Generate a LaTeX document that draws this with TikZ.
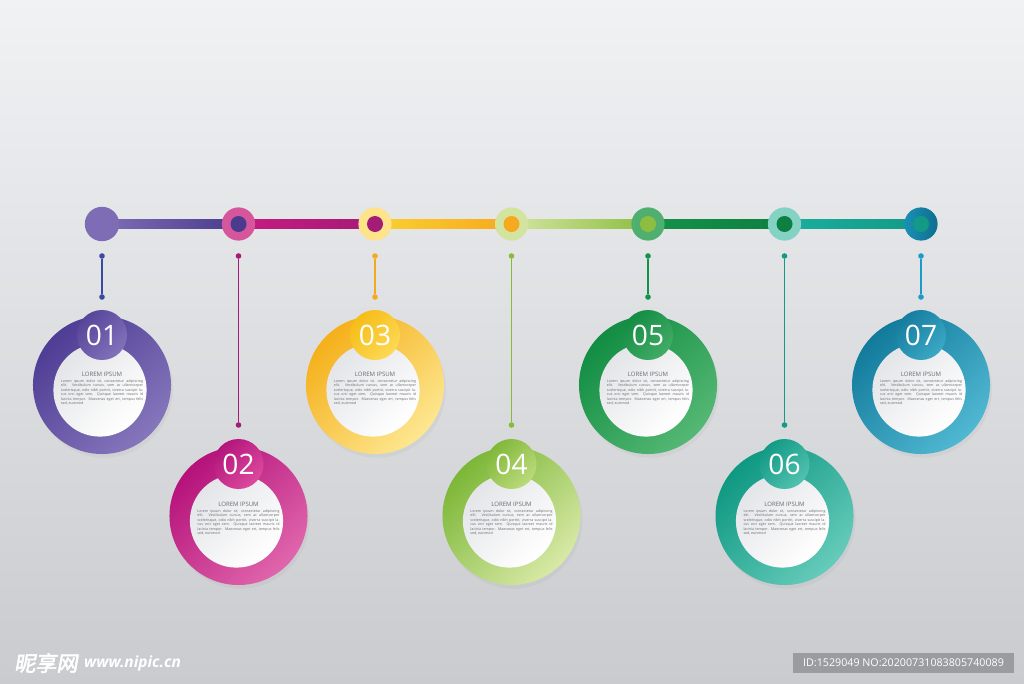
\documentclass[tikz,border=0pt]{standalone}
\usepackage{fontspec}
\setsansfont{Open Sans}
\newfontfamily\cjk[FakeSlant=0.18,FakeBold=2.5]{Noto Sans CJK SC}
\usepackage{tikz}
\usetikzlibrary{calc,positioning,shadows}
\definecolor{tlBgTop}{HTML}{F1F2F4}
\definecolor{tlBgBot}{HTML}{C9CBCE}
\definecolor{tlText}{HTML}{6B6C70}
\definecolor{tlFace}{HTML}{E4E5E8}
\definecolor{tlIdGray}{HTML}{9A9C9F}
% timeline colours
\definecolor{tlPurpleLt}{HTML}{7E6DB5}
\definecolor{tlPurpleDk}{HTML}{4B3B8E}
\definecolor{tlPink}{HTML}{D6569C}
\definecolor{tlMagenta}{HTML}{C81A82}
\definecolor{tlMagentaDk}{HTML}{A31C76}
\definecolor{tlYellowLt}{HTML}{FDE38A}
\definecolor{tlYellow}{HTML}{FBD030}
\definecolor{tlOrange}{HTML}{F6A91E}
\definecolor{tlLimeLt}{HTML}{D3E4A0}
\definecolor{tlLime}{HTML}{8DBE42}
\definecolor{tlGreenMid}{HTML}{4FAF6E}
\definecolor{tlGreen}{HTML}{13934A}
\definecolor{tlGreenDk}{HTML}{0D7F40}
\definecolor{tlTealLt}{HTML}{84D2C4}
\definecolor{tlTeal}{HTML}{1AAE9E}
\definecolor{tlTealDk}{HTML}{139A86}
\definecolor{tlBlue}{HTML}{1A8FB4}
\definecolor{tlBlueDk}{HTML}{0F6F8F}
\definecolor{tlStemBlue}{HTML}{3A4AA2}
\definecolor{tlStemLime}{HTML}{86BC38}
\definecolor{tlStemCyan}{HTML}{1C9BC6}
% ring and badge colours
\definecolor{rOneA}{HTML}{4E3D94}\definecolor{rOneB}{HTML}{8676BC}
\definecolor{bOneA}{HTML}{574599}\definecolor{bOneB}{HTML}{8272BA}
\definecolor{rTwoA}{HTML}{B5127A}\definecolor{rTwoB}{HTML}{E066AC}
\definecolor{bTwoA}{HTML}{B3157B}\definecolor{bTwoB}{HTML}{DC4A9E}
\definecolor{rThreeA}{HTML}{F5B01A}\definecolor{rThreeB}{HTML}{FDE791}
\definecolor{bThreeA}{HTML}{F6BD17}\definecolor{bThreeB}{HTML}{FCD956}
\definecolor{rFourA}{HTML}{7CB737}\definecolor{rFourB}{HTML}{D8E9A6}
\definecolor{bFourA}{HTML}{80B83A}\definecolor{bFourB}{HTML}{BCDA7C}
\definecolor{rFiveA}{HTML}{128D43}\definecolor{rFiveB}{HTML}{55B874}
\definecolor{bFiveA}{HTML}{148C44}\definecolor{bFiveB}{HTML}{42AC66}
\definecolor{rSixA}{HTML}{0E9882}\definecolor{rSixB}{HTML}{66CBBA}
\definecolor{bSixA}{HTML}{119A85}\definecolor{bSixB}{HTML}{52C2B0}
\definecolor{rSevenA}{HTML}{127B9C}\definecolor{rSevenB}{HTML}{50B8D2}
\definecolor{bSevenA}{HTML}{157D9E}\definecolor{bSevenB}{HTML}{3DA8C6}
\newcommand{\loremtext}{Lorem ipsum dolor sit, consectetur adipiscing
  elit. Vestibulum cursus, sem ac ullamcorper scelerisque, odio nibh
  porttit, viverra suscipit lacus orci eget sem. Quisque laoreet mauris
  id lacinia tempor. Maecenas eget ert, tempus felis sed, euismod}
\tikzset{
  tlstop/.style={circle, inner sep=0pt, minimum size=8.3mm},
  hub/.style={circle, inner sep=0pt, minimum size=4mm},
  pindot/.style={circle, inner sep=0pt, minimum size=1.4mm},
  stemline/.style={line width=1.3pt},
  ring/.style 2 args={circle, inner sep=0pt, minimum size=34.5mm,
    top color=#1, bottom color=#2, shading angle=45,
    drop shadow={opacity=0.08, shadow xshift=0.5mm, shadow yshift=-0.9mm}},
  face/.style={circle, inner sep=0pt, minimum size=23.3mm,
    top color=tlFace, bottom color=white, shading angle=45},
  badge/.style 2 args={circle, inner sep=0pt, minimum size=12.5mm,
    top color=#1, bottom color=#2, shading angle=45, text=white,
    font=\sffamily\fontsize{20}{20}\selectfont},
  heading/.style={font=\sffamily\fontsize{4.3}{5}\selectfont, text=tlText},
  blurb/.style={anchor=north, font=\sffamily\fontsize{2.55}{3.2}\selectfont,
    text=tlText, text width=20.5mm, align=justify, inner sep=0pt}
}
\begin{document}
\begin{tikzpicture}[x=0.025cm, y=-0.025cm]
  \useasboundingbox (0,0) rectangle (1024,683);
  \shade[top color=tlBgTop, bottom color=tlBgBot] (0,0) rectangle (1024,683);

  % timeline
  \coordinate (t1) at (102,224);
  \coordinate (t2) at (238.5,224);
  \coordinate (t3) at (375,224);
  \coordinate (t4) at (511.5,224);
  \coordinate (t5) at (648,224);
  \coordinate (t6) at (784.5,224);
  \coordinate (t7) at (921,224);
  \shade[left color=tlPurpleLt, right color=tlPurpleDk]
    ([yshift=-1.1mm]t1) rectangle ([yshift=1.1mm]t2);
  \shade[left color=tlMagenta, right color=tlMagentaDk]
    ([yshift=-1.1mm]t2) rectangle ([yshift=1.1mm]t3);
  \shade[left color=tlYellow, right color=tlOrange]
    ([yshift=-1.1mm]t3) rectangle ([yshift=1.1mm]t4);
  \shade[left color=tlLimeLt, right color=tlLime]
    ([yshift=-1.1mm]t4) rectangle ([yshift=1.1mm]t5);
  \shade[left color=tlGreen, right color=tlGreenDk]
    ([yshift=-1.1mm]t5) rectangle ([yshift=1.1mm]t6);
  \shade[left color=tlTeal, right color=tlTealDk]
    ([yshift=-1.1mm]t6) rectangle ([yshift=1.1mm]t7);
  \node[tlstop, fill=tlPurpleLt, minimum size=8.6mm] (s1) at (t1) {};
  \node[tlstop, fill=tlPink] (s2) at (t2) {};
  \node[tlstop, fill=tlYellowLt] (s3) at (t3) {};
  \node[tlstop, fill=tlLimeLt] (s4) at (t4) {};
  \node[tlstop, fill=tlGreenMid] (s5) at (t5) {};
  \node[tlstop, fill=tlTealLt] (s6) at (t6) {};
  \node[tlstop, left color=tlBlue, right color=tlBlueDk] (s7) at (t7) {};
  \node[hub, fill=tlPurpleDk] (h2) at (t2) {};
  \node[hub, fill=tlMagentaDk] (h3) at (t3) {};
  \node[hub, fill=tlOrange] (h4) at (t4) {};
  \node[hub, fill=tlLime] (h5) at (t5) {};
  \node[hub, fill=tlGreenDk] (h6) at (t6) {};
  \node[hub, fill=tlTealDk] (h7) at (t7) {};

  % stems
  \node[pindot, fill=tlStemBlue] (p1a) at (102,256) {};
  \node[pindot, fill=tlStemBlue] (p1b) at (102,297) {};
  \node[pindot, fill=tlMagentaDk] (p2a) at (238.5,256) {};
  \node[pindot, fill=tlMagentaDk] (p2b) at (238.5,425) {};
  \node[pindot, fill=tlOrange] (p3a) at (375,256) {};
  \node[pindot, fill=tlOrange] (p3b) at (375,297) {};
  \node[pindot, fill=tlStemLime] (p4a) at (511.5,256) {};
  \node[pindot, fill=tlStemLime] (p4b) at (511.5,425) {};
  \node[pindot, fill=tlGreen] (p5a) at (648,256) {};
  \node[pindot, fill=tlGreen] (p5b) at (648,297) {};
  \node[pindot, fill=tlTealDk] (p6a) at (784.5,256) {};
  \node[pindot, fill=tlTealDk] (p6b) at (784.5,425) {};
  \node[pindot, fill=tlStemCyan] (p7a) at (921,256) {};
  \node[pindot, fill=tlStemCyan] (p7b) at (921,297) {};
  \draw[stemline, draw=tlStemBlue] (p1a) -- (p1b);
  \draw[stemline, draw=tlMagentaDk] (p2a) -- (p2b);
  \draw[stemline, draw=tlOrange] (p3a) -- (p3b);
  \draw[stemline, draw=tlStemLime] (p4a) -- (p4b);
  \draw[stemline, draw=tlGreen] (p5a) -- (p5b);
  \draw[stemline, draw=tlTealDk] (p6a) -- (p6b);
  \draw[stemline, draw=tlStemCyan] (p7a) -- (p7b);

  % 01
  \node[ring={rOneA}{rOneB}] (c1) at (102,385) {};
  \node[face] (f1) at (100,390) {};
  \node[badge={bOneA}{bOneB}] (b1) at (102,335) {01};
  \node[heading] (l1) at (102,374) {LOREM IPSUM};
  \node[blurb] (x1) at (102,379) {\loremtext};
  % 02
  \node[ring={rTwoA}{rTwoB}] (c2) at (238.5,516) {};
  \node[face] (f2) at (236.5,521) {};
  \node[badge={bTwoA}{bTwoB}] (b2) at (238.5,464) {02};
  \node[heading] (l2) at (238.5,504) {LOREM IPSUM};
  \node[blurb] (x2) at (238.5,509) {\loremtext};
  % 03
  \node[ring={rThreeA}{rThreeB}] (c3) at (375,385) {};
  \node[face] (f3) at (373,390) {};
  \node[badge={bThreeA}{bThreeB}] (b3) at (375,335) {03};
  \node[heading] (l3) at (375,374) {LOREM IPSUM};
  \node[blurb] (x3) at (375,379) {\loremtext};
  % 04
  \node[ring={rFourA}{rFourB}] (c4) at (511.5,516) {};
  \node[face] (f4) at (509.5,521) {};
  \node[badge={bFourA}{bFourB}] (b4) at (511.5,464) {04};
  \node[heading] (l4) at (511.5,504) {LOREM IPSUM};
  \node[blurb] (x4) at (511.5,509) {\loremtext};
  % 05
  \node[ring={rFiveA}{rFiveB}] (c5) at (648,385) {};
  \node[face] (f5) at (646,390) {};
  \node[badge={bFiveA}{bFiveB}] (b5) at (648,335) {05};
  \node[heading] (l5) at (648,374) {LOREM IPSUM};
  \node[blurb] (x5) at (648,379) {\loremtext};
  % 06
  \node[ring={rSixA}{rSixB}] (c6) at (784.5,516) {};
  \node[face] (f6) at (782.5,521) {};
  \node[badge={bSixA}{bSixB}] (b6) at (784.5,464) {06};
  \node[heading] (l6) at (784.5,504) {LOREM IPSUM};
  \node[blurb] (x6) at (784.5,509) {\loremtext};
  % 07
  \node[ring={rSevenA}{rSevenB}] (c7) at (921,385) {};
  \node[face] (f7) at (919,390) {};
  \node[badge={bSevenA}{bSevenB}] (b7) at (921,335) {07};
  \node[heading] (l7) at (921,374) {LOREM IPSUM};
  \node[blurb] (x7) at (921,379) {\loremtext};

  % watermark and id
  \node[anchor=west, text=white, inner sep=0pt,
    font=\cjk\fontsize{15}{15}\selectfont] (wm) at (14,663) {昵享网};
  \node[right=1.5mm of wm, text=white, inner sep=0pt,
    font=\sffamily\bfseries\itshape\fontsize{11}{11}\selectfont] (url)
    {www.nipic.cn};
  \node[fill=tlIdGray, text=white, minimum width=55mm, minimum height=4.9mm,
    inner sep=0pt, font=\sffamily\fontsize{7.6}{8}\selectfont] (idbox)
    at (903.5,663) {ID:1529049 NO:20200731083805740089};
\end{tikzpicture}
\end{document}
